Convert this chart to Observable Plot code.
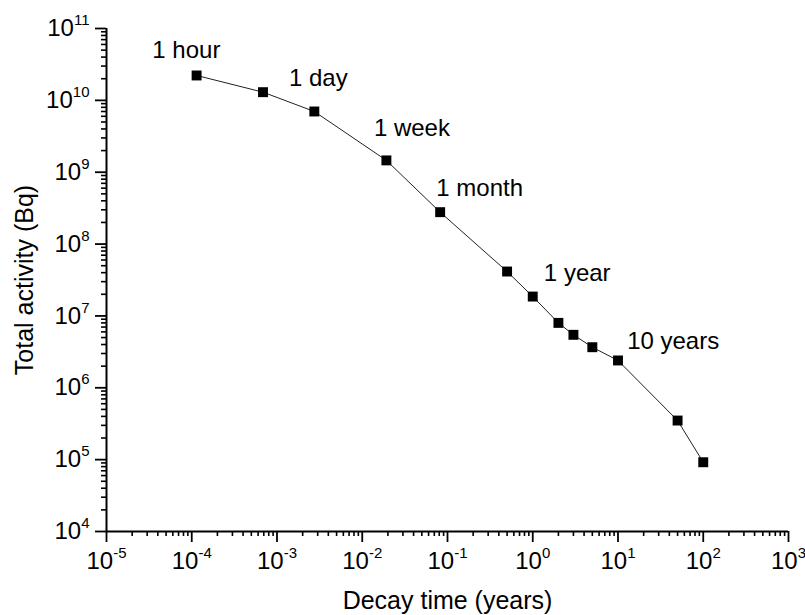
<!DOCTYPE html>
<html><head><meta charset="utf-8">
<script src="https://cdn.jsdelivr.net/npm/d3@7"></script>
<script src="https://cdn.jsdelivr.net/npm/@observablehq/plot@0.6"></script>
<style>body{margin:0;background:#fff} svg{display:block}</style>
</head><body><div id="chart"></div>
<script>
// Data
const timeYears = [1.14e-4, 6.85e-4, 2.74e-3, 1.92e-2, 8.2e-2, 0.5, 1, 2, 3, 5, 10, 50, 100];
const activityBq = [2.22e10, 1.3e10, 7.0e9, 1.46e9, 2.78e8, 4.15e7, 1.86e7, 8.0e6, 5.46e6, 3.67e6, 2.40e6, 3.5e5, 9.2e4];
const labelText = ["1 hour", "1 day", "1 week", "1 month", "1 year", "10 years"];
const labelX = [3.45e-5, 1.38e-3, 1.37e-2, 7.4e-2, 1.35, 12.8];
const labelY = [4.99e10, 2.05e10, 4.06e9, 6.0e8, 3.89e7, 4.37e6];
const xExponents = [-5, -4, -3, -2, -1, 0, 1, 2, 3];
const yExponents = [4, 5, 6, 7, 8, 9, 10, 11];
const xTitle = "Decay time (years)";
const yTitle = "Total activity (Bq)";

const data = timeYears.map((t, i) => ({t, a: activityBq[i]}));
const labels = labelText.map((s, i) => ({s, x: labelX[i], y: labelY[i]}));
const mult = [2, 3, 4, 5, 6, 7, 8, 9];
const xMajor = xExponents.map(e => 10 ** e);
const yMajor = yExponents.map(e => 10 ** e);
const xMinor = xExponents.slice(0, -1).flatMap(e => mult.map(k => k * 10 ** e));
const yMinor = yExponents.slice(0, -1).flatMap(e => mult.map(k => k * 10 ** e));
const fmt = d => "10^" + Math.round(Math.log10(d));

const chart = Plot.plot({
  width: 805, height: 615,
  marginLeft: 106, marginRight: 17, marginTop: 28, marginBottom: 84,
  style: {fontFamily: "'Liberation Sans', Arial, sans-serif", fontSize: "24px", color: "#000", background: "#fff"},
  x: {type: "log", domain: [1e-5, 1e3]},
  y: {type: "log", domain: [1e4, 1e11]},
  marks: [
    Plot.axisX(xMinor, {tickSize: 5, tickFormat: () => "", strokeWidth: 1.6, label: null}),
    Plot.axisX(xMajor, {tickSize: 11, tickPadding: 9, tickFormat: fmt, strokeWidth: 1.8, label: null}),
    Plot.axisY(yMinor, {tickSize: 5, tickFormat: () => "", strokeWidth: 1.6, label: null}),
    Plot.axisY(yMajor, {tickSize: 11, tickPadding: 6, tickFormat: fmt, strokeWidth: 1.8, label: null}),
    Plot.ruleX([1e-5], {strokeWidth: 2}),
    Plot.ruleY([1e4], {strokeWidth: 2}),
    Plot.line(data, {x: "t", y: "a", stroke: "#222", strokeWidth: 1}),
    Plot.dot(data, {x: "t", y: "a", symbol: "square", r: 5.6, fill: "#000", stroke: "none"}),
    Plot.text(labels, {x: "x", y: "y", text: "s", textAnchor: "start", lineAnchor: "middle", fontSize: 24, fill: "#000"}),
    Plot.text([xTitle], {frameAnchor: "bottom", textAnchor: "middle", lineAnchor: "bottom", dy: 77, fontSize: 25, fill: "#000"}),
    Plot.text([yTitle], {frameAnchor: "left", textAnchor: "middle", lineAnchor: "bottom", rotate: -90, dx: -74, fontSize: 25, fill: "#000"})
  ]
});

// Render tick labels as 10 with a raised exponent
d3.select(chart).selectAll("text").each(function() {
  const el = d3.select(this);
  const m = /^10\^(-?\d+)$/.exec(el.text());
  if (!m) return;
  el.attr("font-size", 24).text("10");
  el.append("tspan").attr("dy", -11).attr("font-size", 15).text(m[1]);
});

document.getElementById("chart").appendChild(chart);
</script>
</body></html>
